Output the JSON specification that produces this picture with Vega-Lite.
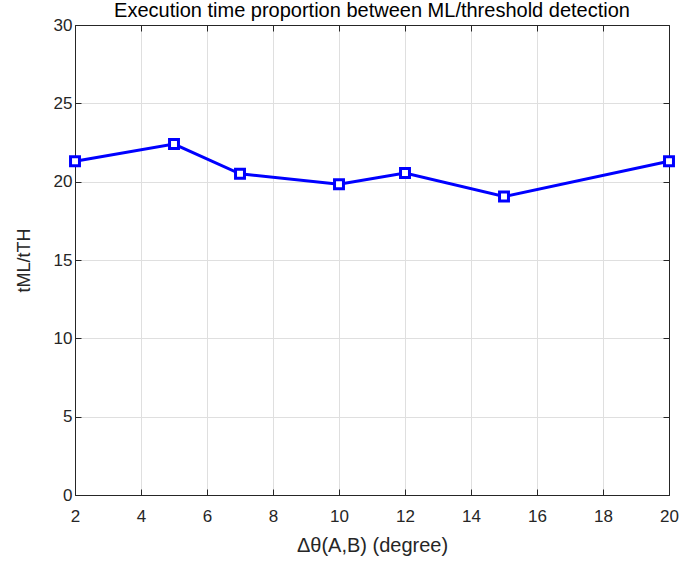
{
  "$schema": "https://vega.github.io/schema/vega-lite/v6.json",
  "autosize": "none",
  "width": 594,
  "height": 470,
  "padding": {"left": 75, "top": 25, "right": 10, "bottom": 66},
  "background": "white",
  "title": {
    "text": "Execution time proportion between ML/threshold detection",
    "font": "Liberation Sans",
    "fontSize": 20,
    "fontWeight": "normal",
    "color": "#000000",
    "offset": 6,
    "dy": 11
  },
  "config": {
    "view": {"stroke": "#262626", "strokeWidth": 1},
    "axis": {
      "labelFont": "Liberation Sans",
      "labelFontSize": 17,
      "labelColor": "#262626",
      "labelFlush": false,
      "labelOverlap": false,
      "titleFont": "Liberation Sans",
      "titleFontSize": 20,
      "titleFontWeight": "normal",
      "titleColor": "#262626",
      "domainColor": "#262626",
      "tickColor": "#262626",
      "tickSize": -6,
      "gridColor": "#dfdfdf",
      "gridOpacity": 1
    }
  },
  "data": {
    "values": [
      {"deg": 2, "ratio": 21.3},
      {"deg": 5, "ratio": 22.4},
      {"deg": 7, "ratio": 20.5},
      {"deg": 10, "ratio": 19.83},
      {"deg": 12, "ratio": 20.55},
      {"deg": 15, "ratio": 19.05},
      {"deg": 20, "ratio": 21.3}
    ]
  },
  "layer": [
    {
      "mark": {"type": "line", "color": "#0000ff", "strokeWidth": 3, "point": {"shape": "square", "size": 80, "filled": false, "stroke": "#0000ff", "strokeWidth": 3, "fill": "white"}},
      "encoding": {
        "x": {"field": "deg", "type": "quantitative", "scale": {"domain": [2, 20], "nice": false}, "axis": {"values": [2,4,6,8,10,12,14,16,18,20], "title": "Δθ(A,B) (degree)", "titlePadding": 11, "labelPadding": 19}},
        "y": {"field": "ratio", "type": "quantitative", "scale": {"domain": [0, 30], "nice": false}, "axis": {"values": [0,5,10,15,20,25,30], "title": "tML/tTH", "titleFontSize": 18, "titlePadding": 20, "labelPadding": 9}}
      }
    },
    {
      "mark": {"type": "point", "opacity": 0},
      "encoding": {
        "x": {"field": "deg", "type": "quantitative", "scale": {"domain": [2, 20], "nice": false}, "axis": {"orient": "top", "values": [2,4,6,8,10,12,14,16,18,20], "labels": false, "title": null, "grid": false}},
        "y": {"field": "ratio", "type": "quantitative", "scale": {"domain": [0, 30], "nice": false}, "axis": {"orient": "right", "values": [0,5,10,15,20,25,30], "labels": false, "title": null, "grid": false}}
      }
    }
  ],
  "resolve": {"axis": {"x": "independent", "y": "independent"}}
}
